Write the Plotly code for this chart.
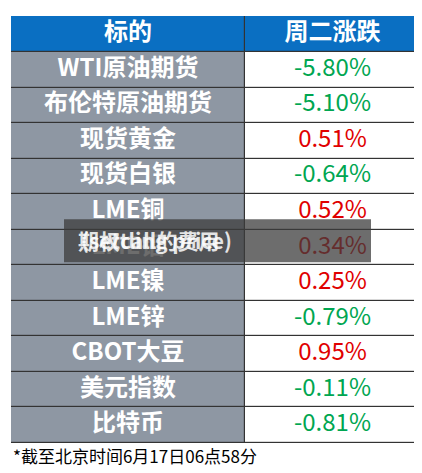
import plotly.graph_objects as go

headers = ["标的", "周二涨跌"]
names = ["WTI原油期货", "布伦特原油期货", "现货黄金", "现货白银", "LME铜", "LME铝",
         "LME镍", "LME锌", "CBOT大豆", "美元指数", "比特币"]
changes = [-5.80, -5.10, 0.51, -0.64, 0.52, 0.34, 0.25, -0.79, 0.95, -0.11, -0.81]

change_text = [f"{v:.2f}%" for v in changes]
change_colors = ["#E00000" if v > 0 else "#00A651" for v in changes]

font = "Noto Sans CJK SC"
n = len(names)

# grid edges (pixels within plot area)
col_edges = [0, 234, 409]
head_h, row_h = 36, 35.5
row_edges = [0, head_h] + [head_h + row_h * (i + 1) for i in range(n)]
row_mid = [(row_edges[i] + row_edges[i + 1]) / 2 for i in range(n + 1)]
col_mid = [(col_edges[0] + col_edges[1]) / 2, (col_edges[1] + col_edges[2]) / 2]

z = [[0, 0]] + [[1, 2] for _ in range(n)]

fig = go.Figure()
fig.add_trace(go.Heatmap(
    x=col_edges, y=row_edges, z=z, zmin=0, zmax=2, showscale=False, hoverinfo="skip",
    colorscale=[[0, "#0A6FC2"], [0.333, "#0A6FC2"], [0.334, "#8E97A3"],
                [0.666, "#8E97A3"], [0.667, "#FFFFFF"], [1, "#FFFFFF"]],
    xgap=1.2, ygap=1.2,
))
fig.add_trace(go.Scatter(
    x=[col_mid[0]] * (n + 1) + [col_mid[1]], y=row_mid + [row_mid[0]],
    mode="text", text=[f"<b>{t}</b>" for t in [headers[0]] + names + [headers[1]]],
    textfont=dict(family=font, size=24, color="white"), hoverinfo="skip",
))
fig.add_trace(go.Scatter(
    x=[col_mid[1]] * n, y=row_mid[1:], mode="text", text=change_text,
    textfont=dict(family=font, size=24, color=change_colors), hoverinfo="skip",
))

fig.add_shape(type="rect", xref="x", yref="y", x0=53, x1=360, y0=203, y1=246,
              fillcolor="rgba(60,60,60,0.75)", line_width=0)
for txt, x0 in [("(settling price)", 68), ("期权call的费用", 65)]:
    fig.add_annotation(xref="x", yref="y", x=x0, y=224, xanchor="left",
                       text=f"<b>{txt}</b>", showarrow=False,
                       font=dict(family=font, size=21, color="rgba(255,255,255,0.85)"))

fig.add_annotation(xref="paper", yref="paper", x=0.0, y=0.005, xanchor="left",
                   yanchor="top", text="*截至北京时间6月17日06点58分", showarrow=False,
                   font=dict(family=font, size=17, color="black"))

fig.update_xaxes(range=[0, 409], visible=False, fixedrange=True)
fig.update_yaxes(range=[row_edges[-1], 0], visible=False, fixedrange=True)
fig.update_layout(width=422, height=473, margin=dict(l=3, r=10, t=8, b=38),
                  paper_bgcolor="white", plot_bgcolor="#333333", showlegend=False)

fig.write_html("out.html")
